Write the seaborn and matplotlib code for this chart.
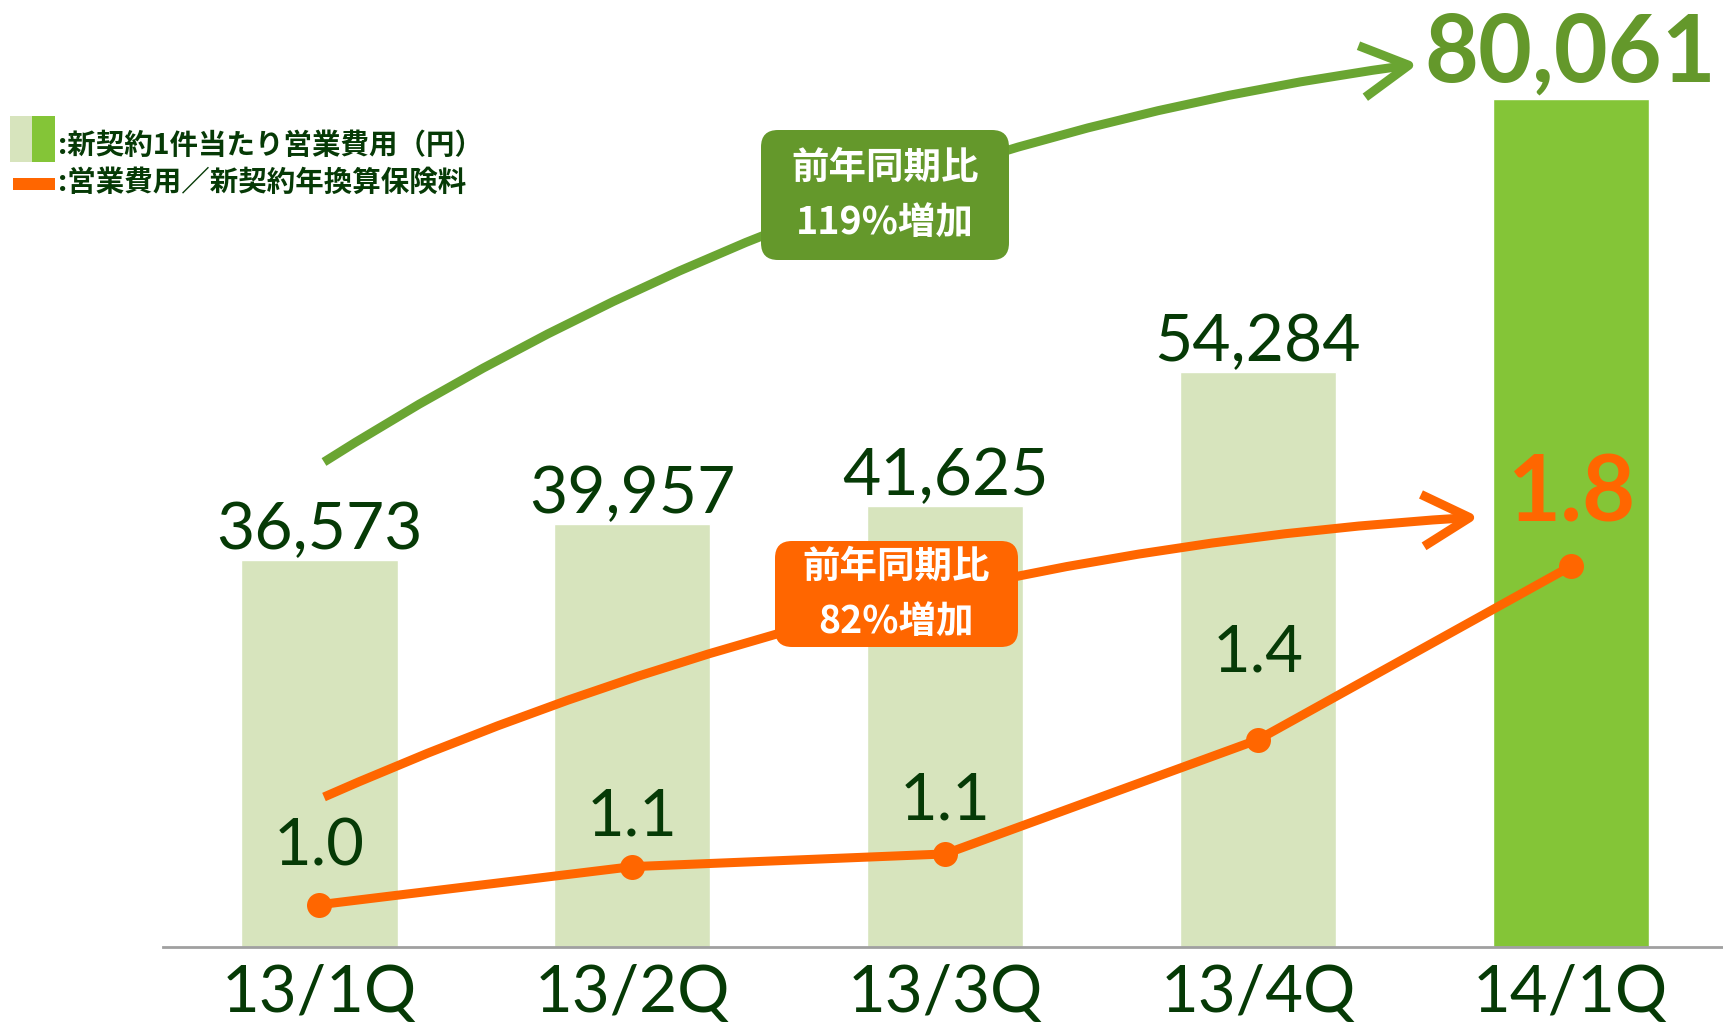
import numpy as np
import pandas as pd
import matplotlib
matplotlib.use("Agg")
import matplotlib.pyplot as plt
import seaborn as sns
from matplotlib.patches import FancyArrowPatch, FancyBboxPatch, Rectangle

# ── data ─────────────────────────────────────────────────────────────────────
quarters = ["13/1Q", "13/2Q", "13/3Q", "13/4Q", "14/1Q"]
cost_per_contract = [36573, 39957, 41625, 54284, 80061]      # 円
cost_ratio = [1.0, 1.09, 1.12, 1.39, 1.8]                    # 営業費用/新契約年換算保険料

legend_bar = ":新契約1件当たり営業費用（円）"
legend_line = ":営業費用／新契約年換算保険料"
green_note = "前年同期比\n119%増加"
orange_note = "前年同期比\n82%増加"

# ── style ────────────────────────────────────────────────────────────────────
sns.set_theme(style="white")
plt.rcParams["font.family"] = ["Lato", "Noto Sans CJK JP", "DejaVu Sans"]
CJK = ["Noto Sans CJK JP", "DejaVu Sans"]

LIGHT = "#d7e4bd"
BRIGHT = "#84c537"
DKGREEN = "#063a06"
GREEN = "#64982b"
ARROWG = "#6aa532"
ORANGE = "#ff6600"

fig = plt.figure(figsize=(17.24, 10.24), dpi=100)
ax = fig.add_axes([163 / 1724, 1 - 947 / 1024, 1 - 163 / 1724, 947 / 1024])

df = pd.DataFrame({"quarter": quarters, "cost": cost_per_contract, "ratio": cost_ratio})
palette = [LIGHT] * (len(quarters) - 1) + [BRIGHT]
sns.barplot(data=df, x="quarter", y="cost", hue="quarter", palette=palette,
            width=0.5, legend=False, ax=ax, saturation=1)
ax.set_xlim(-0.5, 4.49)
ax.set_ylim(0, 89400)
ax.set_xlabel("")
ax.set_ylabel("")
ax.set_yticks([])
for s in ["top", "left", "right"]:
    ax.spines[s].set_visible(False)
ax.spines["bottom"].set_color("#a0a0a0")
ax.spines["bottom"].set_linewidth(2)
ax.tick_params(axis="x", length=0, pad=12, labelsize=47, labelcolor=DKGREEN)

# bar value labels
for i, v in enumerate(cost_per_contract):
    last = i == len(cost_per_contract) - 1
    ax.annotate(f"{v:,}", (i, v), xytext=(0, 17 if last else 11), textcoords="offset pixels",
                ha="center", va="baseline",
                fontsize=67 if last else 47.5, fontweight="bold" if last else "normal",
                color=GREEN if last else DKGREEN)

# ratio line on twin axis
ax2 = ax.twinx()
ax2.set_ylim(0.9, 3.139)
ax2.set_yticks([])
for s in ["top", "left", "right", "bottom"]:
    ax2.spines[s].set_visible(False)
sns.lineplot(x=np.arange(len(cost_ratio)), y=cost_ratio, ax=ax2, color=ORANGE,
             linewidth=6.5, marker="o", markersize=18, markeredgewidth=0)
ax2.set_xlim(-0.5, 4.49)

label_offsets = [58, 50, 53, 87, 71]
for i, v in enumerate(cost_ratio):
    last = i == len(cost_ratio) - 1
    ax2.annotate(f"{v:.1f}", (i, v), xytext=(0, label_offsets[i]), textcoords="offset pixels",
                 ha="center", va="center",
                 fontsize=66 if last else 47, fontweight="bold" if last else "normal",
                 color=ORANGE if last else DKGREEN)

# ── annotations (figure inches, origin bottom-left) ──────────────────────────
T = fig.dpi_scale_trans
H = 10.24


def arrow(p0, p1, color, rad):
    a = FancyArrowPatch(p0, p1, transform=T, connectionstyle=f"arc3,rad={rad}",
                        arrowstyle="->,head_length=1.0,head_width=0.55",
                        mutation_scale=34, color=color, linewidth=6.5,
                        shrinkA=0, shrinkB=0, capstyle="butt", joinstyle="round")
    fig.patches.append(a)


arrow((3.24, H - 4.62), (14.18, H - 0.64), ARROWG, -0.11)
arrow((3.24, H - 7.97), (14.79, H - 5.17), ORANGE, -0.09)


def note(x0, y0, x1, y1, color, text):
    box = FancyBboxPatch((x0 / 100, H - y1 / 100), (x1 - x0) / 100, (y1 - y0) / 100,
                         boxstyle="round,pad=0,rounding_size=0.17", transform=T,
                         facecolor=color, edgecolor="none")
    fig.patches.append(box)
    fig.text((x0 + x1) / 2 / 100, H - (y0 + y1) / 2 / 100, text, transform=T,
             ha="center", va="center", fontsize=27, fontweight="bold", color="white",
             family=CJK, linespacing=1.5)


note(761, 130, 1009, 260, GREEN, green_note)
note(775, 541, 1018, 647, ORANGE, orange_note)

# legend
fig.patches.append(Rectangle((0.10, H - 1.62), 0.22, 0.46, transform=T, facecolor=LIGHT, edgecolor="none"))
fig.patches.append(Rectangle((0.32, H - 1.62), 0.23, 0.46, transform=T, facecolor=BRIGHT, edgecolor="none"))
fig.patches.append(Rectangle((0.13, H - 1.90), 0.42, 0.12, transform=T, facecolor=ORANGE, edgecolor="none"))
fig.text(0.58, H - 1.46, legend_bar, transform=T, ha="left", va="center",
         fontsize=20.5, fontweight="bold", color=DKGREEN, family=CJK)
fig.text(0.58, H - 1.83, legend_line, transform=T, ha="left", va="center",
         fontsize=20.5, fontweight="bold", color=DKGREEN, family=CJK)

fig.savefig("out.png", dpi=100)
